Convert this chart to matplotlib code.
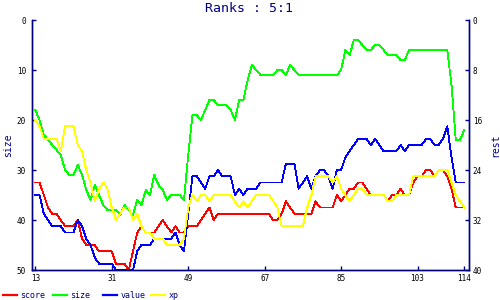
import matplotlib
matplotlib.use('Agg')
import matplotlib.pyplot as plt
import numpy as np

plt.rcParams['font.family'] = ['DejaVu Sans Mono']

navy = '#000080'

# x positions (ranks)
x = np.arange(13, 115)

# left axis series
size = [18, 20, 23, 24, 25, 26, 27, 30, 31, 31,
        29, 31, 34, 36, 33, 35, 37, 38, 38, 38,
        39, 37, 38, 39, 36, 37, 34, 35, 31, 33,
        34, 36, 35, 35, 35, 36, 27, 19, 19, 20,
        18, 16, 16, 17, 17, 17, 18, 20, 16, 16,
        12, 9, 10, 11, 11, 11, 11, 10, 10, 11,
        9, 10, 11, 11, 11, 11, 11, 11, 11, 11,
        11, 11, 10, 6, 7, 4, 4, 5, 6, 6,
        5, 5, 6, 7, 7, 7, 8, 8, 6, 6,
        6, 6, 6, 6, 6, 6, 6, 6, 13, 24,
        24, 22]

# right axis series
score = [26, 26, 28, 30, 31, 31, 32, 33, 33, 33,
         32, 35, 36, 36, 36, 37, 37, 37, 37, 39,
         39, 39, 40, 37, 34, 33, 34, 34, 34, 33,
         32, 33, 34, 33, 34, 34, 33, 33, 33, 32,
         31, 30, 32, 31, 31, 31, 31, 31, 31, 31,
         31, 31, 31, 31, 31, 31, 32, 32, 31, 29,
         30, 31, 31, 31, 31, 31, 29, 30, 30, 30,
         30, 28, 29, 28, 27, 27, 26, 26, 27, 28,
         28, 28, 28, 29, 28, 28, 27, 28, 28, 26,
         25, 25, 24, 24, 25, 24, 24, 25, 27, 30,
         30, 30]

value = [28, 28, 31, 32, 33, 33, 33, 34, 34, 34,
         32, 33, 35, 36, 38, 39, 39, 39, 39, 40,
         40, 40, 40, 40, 37, 36, 36, 36, 35, 35,
         35, 35, 35, 34, 36, 37, 31, 25, 25, 26,
         27, 25, 25, 24, 25, 25, 25, 28, 27, 28,
         27, 27, 27, 26, 26, 26, 26, 26, 26, 23,
         23, 23, 27, 26, 25, 27, 25, 24, 24, 25,
         27, 24, 24, 22, 21, 20, 19, 19, 19, 20,
         19, 20, 21, 21, 21, 21, 20, 21, 20, 20,
         20, 20, 19, 19, 20, 20, 19, 17, 22, 26,
         26, 26]

xp = [16, 17, 19, 19, 19, 19, 21, 17, 17, 17,
      20, 21, 24, 26, 29, 27, 26, 27, 30, 32,
      31, 30, 30, 32, 31, 33, 34, 34, 35, 35,
      35, 36, 36, 36, 36, 35, 30, 28, 29, 28,
      28, 29, 28, 28, 28, 28, 28, 29, 30, 29,
      30, 29, 28, 28, 28, 28, 29, 30, 33, 33,
      33, 33, 33, 33, 30, 28, 25, 25, 25, 25,
      26, 25, 27, 28, 29, 28, 27, 27, 28, 28,
      28, 28, 28, 29, 29, 28, 28, 28, 28, 25,
      25, 25, 25, 25, 25, 24, 24, 24, 26, 28,
      29, 30]

xticks = [13, 31, 49, 67, 85, 103, 114]
left_ticks = [0, 10, 20, 30, 40, 50]
right_ticks = [0, 8, 16, 24, 32, 40]

fig = plt.figure(figsize=(5, 3), dpi=100)
ax = fig.add_axes([0.063, 0.1, 0.874, 0.8333])
ax2 = ax.twinx()

l_size, = ax.plot(x, size, color='#00ff00', lw=0.6, antialiased=False)
l_score, = ax2.plot(x, score, color='#ff0000', lw=0.6, antialiased=False)
l_value, = ax2.plot(x, value, color='#0000ff', lw=0.6, antialiased=False)
l_xp, = ax2.plot(x, xp, color='#ffff00', lw=0.6, antialiased=False)

ax.set_xlim(12.1, 115.0)
ax.set_ylim(50, 0)
ax2.set_ylim(40, 0)

ax.set_xticks(xticks)
ax.set_yticks(left_ticks)
ax2.set_yticks(right_ticks)

for a in (ax, ax2):
    a.spines['top'].set_visible(False)
    for s in ('left', 'right', 'bottom'):
        a.spines[s].set_color(navy)
        a.spines[s].set_linewidth(1.0)
ax.tick_params(axis='both', direction='in', length=3, width=1, color=navy,
               labelsize=5.5, labelcolor='black', pad=4)
ax.tick_params(axis='x', pad=3)
ax2.tick_params(axis='y', direction='in', length=3, width=1, color=navy,
                labelsize=5.5, labelcolor='black', pad=3)

ax.set_ylabel('size', color=navy, fontsize=7)
ax.yaxis.set_label_coords(-0.043, 0.5)
ax2.set_ylabel('rest', color=navy, fontsize=7, rotation=90)
ax2.yaxis.set_label_coords(1.049, 0.5)

fig.text(0.498, 1 - 8.3 / 300, 'Ranks : 5:1', color=navy, fontsize=9.5,
         ha='center', va='center')

# legend entries laid out in fixed columns
entries = [(l_score, 'score', 3), (l_size, 'size', 53),
           (l_value, 'value', 103), (l_xp, 'xp', 151)]
for h, lab, px in entries:
    leg = fig.legend([h], [lab], loc='center left',
                     bbox_to_anchor=(px / 500, 1 - 295 / 300),
                     frameon=False, borderpad=0, borderaxespad=0,
                     handlelength=1.7, handletextpad=0.4, fontsize=6)
    leg.legend_handles[0].set_linewidth(1.6)
    for t in leg.get_texts():
        t.set_color(navy)

fig.savefig('out.png', dpi=100)
